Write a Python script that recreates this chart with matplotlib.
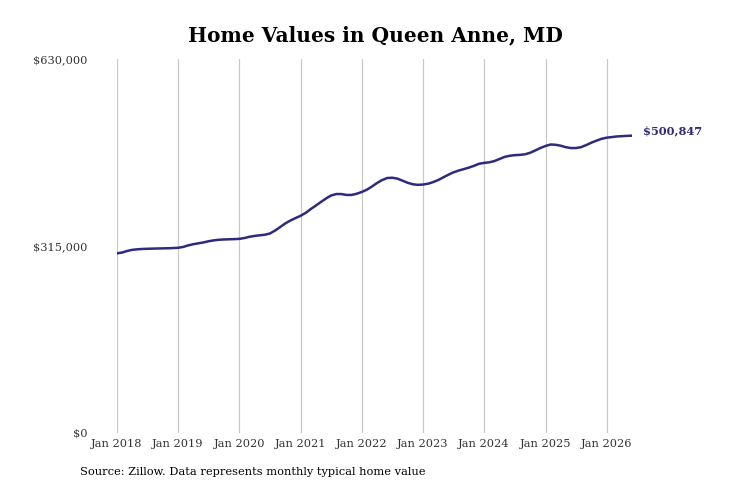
import numpy as np
import pandas as pd
import matplotlib
matplotlib.use("Agg")
import matplotlib.pyplot as plt

# monthly typical home value, thousands of $, Jan 2018 .. Jun 2026
vals_2018 = [302.7, 304, 306.5, 308.5, 309.4, 310, 310.3, 310.6, 310.8, 311, 311.2, 311.5]
vals_2019 = [312, 313.5, 316, 318, 319.5, 321, 323, 324.5, 325.5, 326, 326.3, 326.6]
vals_2020 = [327, 328.5, 330.5, 332, 333, 334, 336, 341, 347, 353, 358, 362]
vals_2021 = [366, 371, 377, 383, 389, 395, 400, 402.5, 402.5, 401, 401, 403]
vals_2022 = [406, 410, 415, 421, 426, 429.5, 430, 428.5, 425, 421.5, 419, 418]
vals_2023 = [418.5, 420, 422.5, 426, 430.5, 435, 439, 442, 444.5, 447, 450, 453.5]
vals_2024 = [455, 456, 458, 461.5, 465, 467, 468, 468.5, 469.5, 472, 476, 480]
vals_2025 = [483.5, 486, 485.5, 484, 481.5, 480, 480, 481.5, 485, 489, 492.5, 495.5]
vals_2026 = [497.5, 498.5, 499.5, 500, 500.5, 500.847]

values = np.array(vals_2018 + vals_2019 + vals_2020 + vals_2021 + vals_2022 +
                  vals_2023 + vals_2024 + vals_2025 + vals_2026) * 1000
dates = pd.date_range("2018-01-01", periods=len(values), freq="MS")

y_ticks = [0, 315000, 630000]
y_labels = ["$0", "$315,000", "$630,000"]
x_years = list(range(2018, 2027))

LINE = "#2e2a80"
SERIF = ["DejaVu Serif"]
FS = 8.2

fig = plt.figure(figsize=(7.31, 4.87), dpi=100)
ax = fig.add_axes([117 / 731, 1 - 433 / 487, (632 - 117) / 731, (433 - 59) / 487])

ax.plot(dates, values, color=LINE, lw=1.8, solid_capstyle="round")

ax.set_ylim(0, 630000)
ax.set_xlim(dates[0], dates[-1])
ax.set_yticks(y_ticks)
ax.set_yticklabels(y_labels, family=SERIF, fontsize=FS, color="#333333")
ax.set_xticks([pd.Timestamp(f"{y}-01-01") for y in x_years])
ax.set_xticklabels([f"Jan {y}" for y in x_years], family=SERIF, fontsize=FS, color="#333333")
ax.tick_params(axis="y", length=0, pad=21)
ax.tick_params(axis="x", length=0, pad=4)

ax.grid(axis="x", color="#c8c8c8", lw=0.9)
ax.grid(axis="y", visible=False)
for s in ax.spines.values():
    s.set_visible(False)

ax.annotate("${:,.0f}".format(values[-1]), xy=(dates[-1], values[-1]),
            xytext=(8, 3.5), textcoords="offset points", va="center",
            ha="left", color=LINE, fontweight="bold", family=SERIF,
            fontsize=FS, annotation_clip=False)

fig.text(375 / 731, 1 - 35 / 487, "Home Values in Queen Anne, MD", ha="center",
         va="center", family=SERIF, fontweight="bold", fontsize=14.5)
fig.text(80 / 731, 1 - 472 / 487, "Source: Zillow. Data represents monthly typical home value",
         ha="left", va="center", family=SERIF, fontsize=FS)

fig.savefig("out.png", dpi=100)
